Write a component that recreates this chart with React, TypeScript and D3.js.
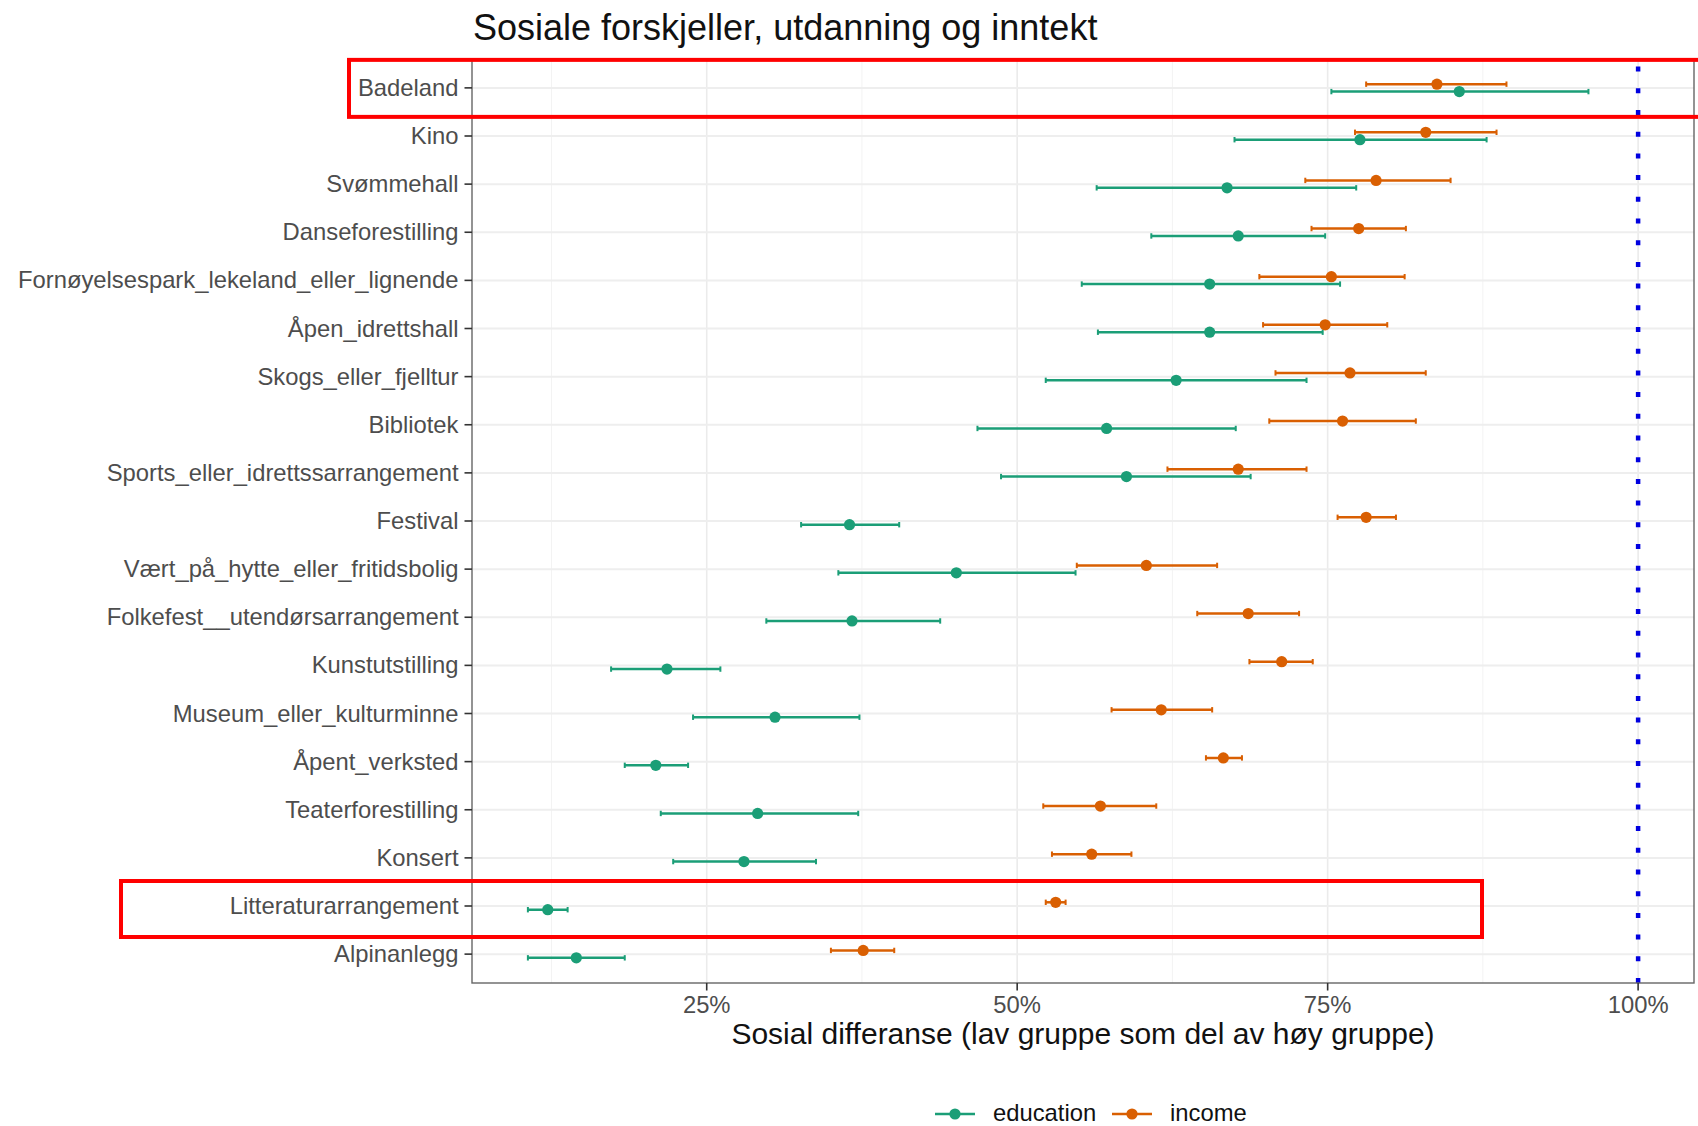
import React from 'react';
import * as d3 from 'd3';

const categories = [
  'Badeland', 'Kino', 'Svømmehall', 'Danseforestilling',
  'Fornøyelsespark_lekeland_eller_lignende', 'Åpen_idrettshall', 'Skogs_eller_fjelltur',
  'Bibliotek', 'Sports_eller_idrettssarrangement', 'Festival', 'Vært_på_hytte_eller_fritidsbolig',
  'Folkefest__utendørsarrangement', 'Kunstutstilling', 'Museum_eller_kulturminne',
  'Åpent_verksted', 'Teaterforestilling', 'Konsert', 'Litteraturarrangement', 'Alpinanlegg',
];

const eduMid = [85.6, 77.6, 66.9, 67.8, 65.5, 65.5, 62.8, 57.2, 58.8, 36.5, 45.1, 36.7, 21.8, 30.5, 20.9, 29.1, 28.0, 12.2, 14.5];
const eduLo = [75.3, 67.5, 56.4, 60.8, 55.2, 56.5, 52.3, 46.8, 48.7, 32.6, 35.6, 29.8, 17.3, 23.9, 18.4, 21.3, 22.3, 10.6, 10.6];
const eduHi = [96.0, 87.8, 77.3, 74.8, 76.0, 74.6, 73.3, 67.6, 68.8, 40.5, 54.7, 43.8, 26.1, 37.3, 23.5, 37.2, 33.8, 13.8, 18.4];

const incMid = [83.8, 82.9, 78.9, 77.5, 75.3, 74.8, 76.8, 76.2, 67.8, 78.1, 60.4, 68.6, 71.3, 61.6, 66.6, 56.7, 56.0, 53.1, 37.6];
const incLo = [78.1, 77.2, 73.2, 73.7, 69.5, 69.8, 70.8, 70.3, 62.1, 75.8, 54.8, 64.5, 68.7, 57.6, 65.2, 52.1, 52.8, 52.3, 35.0];
const incHi = [89.4, 88.6, 84.9, 81.3, 81.2, 79.8, 82.9, 82.1, 73.3, 80.5, 66.1, 72.7, 73.8, 65.7, 68.1, 61.2, 59.2, 53.9, 40.1];

const seriesNames = ['education', 'income'];
const majorTicks = [25, 50, 75, 100];
const minorTicks = [12.5, 37.5, 62.5, 87.5];
const refLine = 100;
const highlighted = ['Badeland', 'Litteraturarrangement'];

const title = 'Sosiale forskjeller, utdanning og inntekt';
const xTitle = 'Sosial differanse (lav gruppe som del av høy gruppe)';

const colors: Record<string, string> = { education: '#1B9E77', income: '#D95F02' };
const FONT = "'Liberation Sans', Arial, Helvetica, sans-serif";

export default function App() {
  const W = 1698, H = 1126;
  const left = 472, right = 1694, top = 59, bottom = 983;

  const x = d3.scaleLinear().domain([6.1, 104.5]).range([left, right]);
  const y = d3.scalePoint<string>().domain(categories).range([top, bottom]).padding(0.6);
  const step = y.step();
  const dodge = step * 0.077;
  const cap = 2.7;
  const r = 5.6;

  const series = [
    { name: 'education', mid: eduMid, lo: eduLo, hi: eduHi, off: dodge },
    { name: 'income', mid: incMid, lo: incLo, hi: incHi, off: -dodge },
  ];

  const hlIdx0 = categories.indexOf(highlighted[0]);
  const hlIdx1 = categories.indexOf(highlighted[1]);

  return (
    <svg width={W} height={H} style={{ position: 'absolute', left: 0, top: 0, background: '#fff' }} fontFamily={FONT}>
      <rect x={0} y={0} width={W} height={H} fill="#fff" />
      {/* title */}
      <text x={left + 1} y={40} fontSize={36} fill="#111">{title}</text>

      {/* grid */}
      {minorTicks.map((t) => (
        <line key={'mn' + t} x1={x(t)} x2={x(t)} y1={top} y2={bottom} stroke="#F3F3F3" strokeWidth={1} />
      ))}
      {majorTicks.map((t) => (
        <line key={'mj' + t} x1={x(t)} x2={x(t)} y1={top} y2={bottom} stroke="#EBEBEB" strokeWidth={1.6} />
      ))}
      {categories.map((c) => (
        <line key={'hg' + c} x1={left} x2={right} y1={y(c)} y2={y(c)} stroke="#EEEEEE" strokeWidth={2} />
      ))}

      {/* reference line */}
      <line x1={x(refLine)} x2={x(refLine)} y1={bottom} y2={top} stroke="#0000E0" strokeWidth={4.5} strokeDasharray="5 16.7" />

      {/* error bars and points */}
      {series.map((s) => (
        <g key={s.name}>
          {categories.map((c, i) => {
            const yy = (y(c) as number) + s.off;
            const col = colors[s.name];
            return (
              <g key={c}>
                <line x1={x(s.lo[i])} x2={x(s.hi[i])} y1={yy} y2={yy} stroke={col} strokeWidth={2.5} />
                <line x1={x(s.lo[i])} x2={x(s.lo[i])} y1={yy - cap} y2={yy + cap} stroke={col} strokeWidth={2} />
                <line x1={x(s.hi[i])} x2={x(s.hi[i])} y1={yy - cap} y2={yy + cap} stroke={col} strokeWidth={2} />
                <circle cx={x(s.mid[i])} cy={yy} r={r} fill={col} />
              </g>
            );
          })}
        </g>
      ))}

      {/* panel border */}
      <rect x={left} y={top} width={right - left} height={bottom - top} fill="none" stroke="#666" strokeWidth={1.4} />

      {/* y axis */}
      {categories.map((c) => (
        <g key={'yl' + c}>
          <line x1={left - 7.5} x2={left} y1={y(c)} y2={y(c)} stroke="#333" strokeWidth={1.6} />
          <text x={left - 13.5} y={(y(c) as number) + 8} textAnchor="end" fontSize={23.8} fill="#4D4D4D">{c}</text>
        </g>
      ))}

      {/* x axis */}
      {majorTicks.map((t) => (
        <g key={'xl' + t}>
          <line x1={x(t)} x2={x(t)} y1={bottom} y2={bottom + 7.5} stroke="#333" strokeWidth={1.6} />
          <text x={x(t)} y={1013} textAnchor="middle" fontSize={23.8} fill="#4D4D4D">{d3.format('.0%')(t / 100)}</text>
        </g>
      ))}
      <text x={(left + right) / 2} y={1044} textAnchor="middle" fontSize={30} fill="#111">{xTitle}</text>

      {/* legend */}
      {seriesNames.map((n, i) => {
        const kx = [935, 1112][i];
        return (
          <g key={'lg' + n}>
            <line x1={kx} x2={kx + 40} y1={1114} y2={1114} stroke={colors[n]} strokeWidth={2.5} />
            <circle cx={kx + 20} cy={1114} r={r} fill={colors[n]} />
            <text x={kx + 58} y={1121} fontSize={23.8} fill="#111">{n}</text>
          </g>
        );
      })}

      {/* highlight boxes */}
      <rect x={349} y={(y(categories[hlIdx0]) as number) - 28} width={1400} height={57} fill="none" stroke="#FF0000" strokeWidth={4} />
      <rect x={121} y={(y(categories[hlIdx1]) as number) - 25} width={1361} height={56} fill="none" stroke="#FF0000" strokeWidth={4} />
    </svg>
  );
}
